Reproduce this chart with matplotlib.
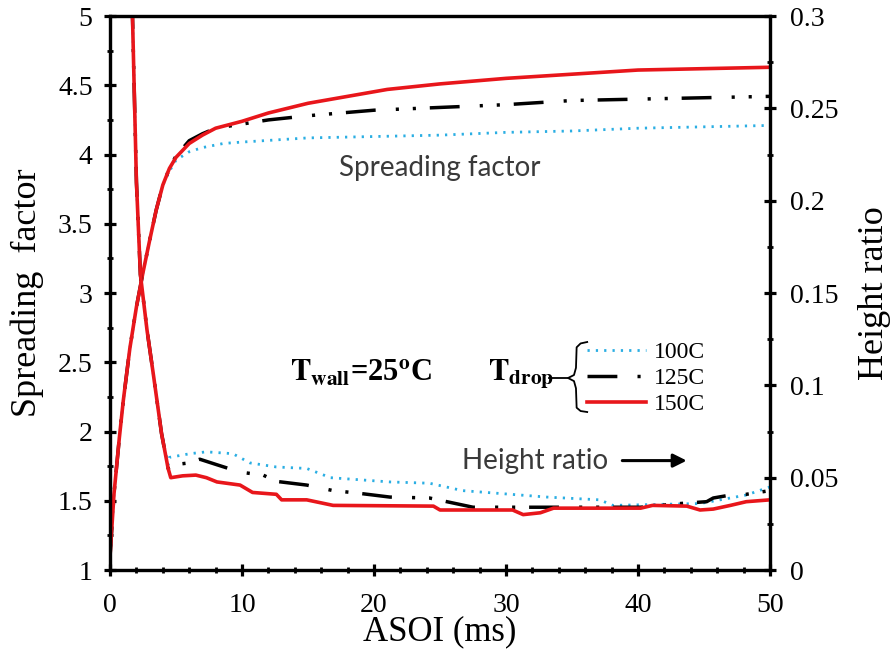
"""Spreading factor and height ratio vs ASOI for three drop temperatures (T_wall = 25 C)."""

import matplotlib

matplotlib.use("Agg")
import matplotlib.pyplot as plt
from matplotlib.ticker import FuncFormatter, MultipleLocator

plt.rcParams["font.family"] = "Liberation Serif"
plt.rcParams["mathtext.fontset"] = "stix"

# ---- data ----
# spreading factor, left axis
sf_x_150 = [0, 0.3, 0.7, 1.0, 1.5, 2.0, 2.5, 3.0, 3.5, 4.0, 4.5, 5.0, 6.0, 7.0, 8.0,
            10, 12, 15, 18, 21, 25, 30, 35, 40, 45, 50]
sf_y_150 = [1.1, 1.55, 1.95, 2.22, 2.6, 2.9, 3.15, 3.38, 3.6, 3.78, 3.9, 3.98, 4.08, 4.14, 4.19,
            4.24, 4.30, 4.37, 4.42, 4.47, 4.51, 4.55, 4.58, 4.61, 4.62, 4.63]

sf_x_125 = [0, 0.3, 0.7, 1.0, 1.5, 2.0, 2.5, 3.0, 3.5, 4.0, 4.5, 5.0, 6.0, 7.0, 8.0,
            10, 12, 15, 20, 25, 30, 35, 40, 45, 50]
sf_y_125 = [1.1, 1.55, 1.95, 2.22, 2.6, 2.9, 3.15, 3.38, 3.6, 3.78, 3.9, 3.99, 4.10, 4.15, 4.19,
            4.22, 4.25, 4.28, 4.32, 4.34, 4.36, 4.39, 4.40, 4.41, 4.42]

sf_x_100 = [0, 0.3, 0.7, 1.0, 1.5, 2.0, 2.5, 3.0, 3.5, 4.0, 4.5, 5.0, 6.0, 7.0, 8.6,
            10, 15, 20, 25, 30, 35, 40, 45, 50]
sf_y_100 = [1.05, 1.55, 1.95, 2.22, 2.6, 2.9, 3.15, 3.38, 3.6, 3.78, 3.88, 3.96, 4.02, 4.05, 4.08,
            4.09, 4.12, 4.13, 4.14, 4.16, 4.17, 4.19, 4.20, 4.21]

# height ratio, right axis
hr_x_150 = [0, 1.7, 2.0, 2.3, 2.8, 3.3, 3.9, 4.4, 4.6, 5.5, 6.5, 7.3, 8.1, 9.85, 10.8, 12.6, 13.0,
            14.9, 16.9, 24.5, 25.0, 30.5, 31.3, 32.6, 33.6, 40.2, 41.1, 43.7, 44.7, 45.7, 47.0,
            48.2, 50]
hr_y_150 = [1.0, 0.30, 0.21, 0.16, 0.13, 0.105, 0.074, 0.055, 0.050, 0.051, 0.0514, 0.050, 0.0477,
            0.046, 0.042, 0.041, 0.038, 0.038, 0.035, 0.0346, 0.0325, 0.0325, 0.030, 0.031, 0.0335,
            0.0335, 0.035, 0.0346, 0.0325, 0.033, 0.035, 0.037, 0.038]

hr_x_125 = [0, 1.7, 2.0, 2.3, 2.8, 3.3, 3.9, 4.4, 4.8, 6.0, 6.8, 8.1, 9.85, 11.6, 12.6, 14.9, 16.9,
            18.7, 21.2, 24.2, 27.5, 36.6, 40.2, 43.2, 45.2, 45.7, 47.0, 48.2, 50]
hr_y_125 = [1.0, 0.30, 0.21, 0.16, 0.13, 0.105, 0.074, 0.055, 0.057, 0.058, 0.060, 0.057, 0.053,
            0.0514, 0.048, 0.046, 0.043, 0.0417, 0.0395, 0.039, 0.034, 0.034, 0.034, 0.036, 0.037,
            0.039, 0.0406, 0.041, 0.043]

hr_x_100 = [0, 1.7, 2.0, 2.3, 2.8, 3.3, 3.9, 4.4, 4.5, 6.06, 7.3, 9.3, 10.6, 12.6, 14.9, 16.7, 21.2,
            24.2, 26.7, 33.1, 37.1, 38.1, 44.7, 48.2, 50]
hr_y_100 = [1.0, 0.30, 0.21, 0.16, 0.13, 0.105, 0.074, 0.057, 0.061, 0.063, 0.064, 0.063, 0.058,
            0.0558, 0.055, 0.050, 0.0477, 0.047, 0.043, 0.0395, 0.038, 0.035, 0.036, 0.0406, 0.045]

labels = ["100C", "125C", "150C"]

# ---- styles ----
C_RED = "#e8161b"
C_BLUE = "#2aaee3"
C_BLACK = "black"
DASH_125 = (8.6, 5.8, 0.9, 4.0, 0.9, 4.0)
DOT_100 = (0.8, 2.2)
TICK_FS = 20
LABEL_FS = 25
NOTE_FONT = "Lato"
NOTE_FS = 20

fig = plt.figure(figsize=(8.91, 6.49), dpi=100)
ax = fig.add_axes([0.1235, 0.1217, 0.7407, 0.8536])
ax2 = ax.twinx()

# spreading factor
ax.plot(sf_x_100, sf_y_100, color=C_BLUE, lw=2.0, dashes=DOT_100)
ax.plot(sf_x_125, sf_y_125, color=C_BLACK, lw=2.5, dashes=DASH_125)
ax.plot(sf_x_150, sf_y_150, color=C_RED, lw=2.6)

# height ratio
l100, = ax2.plot(hr_x_100, hr_y_100, color=C_BLUE, lw=2.0, dashes=DOT_100)
l125, = ax2.plot(hr_x_125, hr_y_125, color=C_BLACK, lw=2.5, dashes=DASH_125)
l150, = ax2.plot(hr_x_150, hr_y_150, color=C_RED, lw=2.6)

ax.set_xlim(0, 50)
ax.set_ylim(1, 5)
ax2.set_ylim(0, 0.3)

fmt = FuncFormatter(lambda v, _: f"{v:g}")
ax.xaxis.set_major_locator(MultipleLocator(10))
ax.xaxis.set_minor_locator(MultipleLocator(2))
ax.yaxis.set_major_locator(MultipleLocator(0.5))
ax.yaxis.set_minor_locator(MultipleLocator(0.25))
ax2.yaxis.set_major_locator(MultipleLocator(0.05))
ax2.yaxis.set_minor_locator(MultipleLocator(0.025))
for a in (ax.xaxis, ax.yaxis, ax2.yaxis):
    a.set_major_formatter(fmt)

for a in (ax, ax2):
    for s in a.spines.values():
        s.set_linewidth(2.3)
ax.tick_params(which="major", direction="inout", length=9, width=2.3, labelsize=TICK_FS)
ax.tick_params(which="minor", direction="inout", length=5, width=2.0)
ax.tick_params(axis="x", which="major", pad=12)
ax.tick_params(axis="y", which="major", pad=8)
ax.tick_params(axis="y", which="both", right=False)
ax2.tick_params(which="major", direction="inout", length=9, width=2.3, labelsize=TICK_FS, pad=10)
ax2.tick_params(which="minor", direction="inout", length=5, width=2.0)

ax.set_xlabel("ASOI (ms)", fontsize=LABEL_FS, labelpad=-2)
ax.set_ylabel("Spreading  factor", fontsize=26, labelpad=10)
ax2.set_ylabel("Height ratio", fontsize=26, labelpad=14)

# annotations
ax.text(25.0, 3.90, "Spreading factor", fontsize=NOTE_FS, family=NOTE_FONT, color="#3a3a3a",
        ha="center", va="center")
ax.text(26.7, 1.79, "Height ratio", fontsize=NOTE_FS, family=NOTE_FONT, color="#3a3a3a",
        ha="left", va="center")
ax.annotate("", xy=(43.9, 1.79), xytext=(38.6, 1.79),
            arrowprops=dict(arrowstyle="-|>", color="black", lw=2.2, mutation_scale=20))
ax.text(13.6, 2.42, r"$\mathbf{T_{wall}}$=25$^{\mathbf{o}}$C", fontsize=22, fontweight="bold",
        ha="left", va="center")
ax.text(28.6, 2.41, r"$\mathbf{T_{drop}}$", fontsize=22, ha="left", va="center")

# brace joining T_drop to the legend entries (axes coordinates)
ax.plot([0.665, 0.694], [0.3466, 0.3466], color="black", lw=1.3, transform=ax.transAxes)
ax.plot([0.723, 0.713, 0.707, 0.706, 0.703, 0.694, 0.703, 0.706, 0.707, 0.713, 0.723],
        [0.4116, 0.409, 0.402, 0.365, 0.352, 0.3466, 0.341, 0.328, 0.293, 0.287, 0.2852],
        color="black", lw=1.3, transform=ax.transAxes)

leg = ax2.legend([l100, l125, l150], labels, loc="upper left", bbox_to_anchor=(0.7227, 0.412),
                 frameon=False, fontsize=17, handlelength=2.5, handletextpad=0.35,
                 labelspacing=0.18, borderpad=0, borderaxespad=0)

fig.savefig("out.png", dpi=100)
plt.close(fig)
